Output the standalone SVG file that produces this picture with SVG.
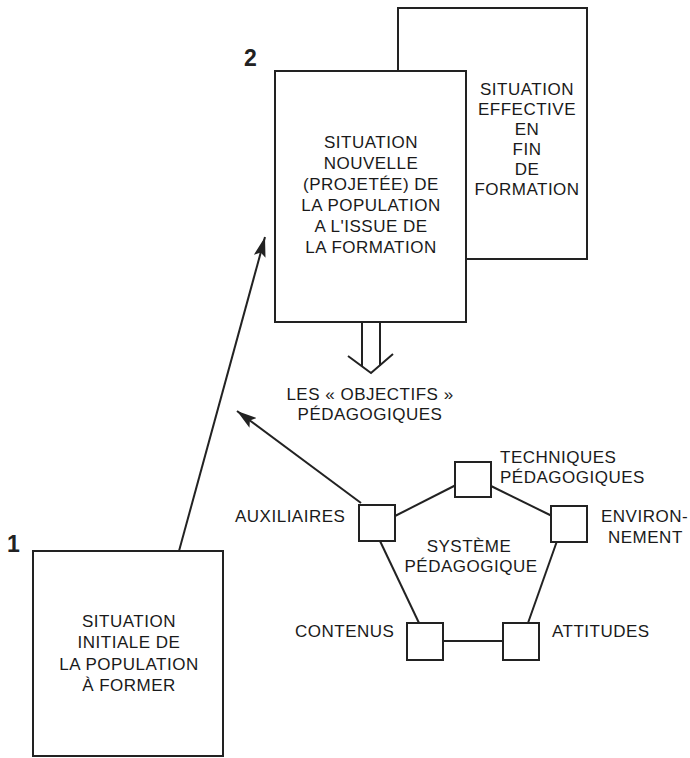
<svg xmlns="http://www.w3.org/2000/svg" width="690" height="758" viewBox="0 0 690 758">
<defs>
<style>
.box{fill:#fff;stroke:#222;stroke-width:2}
.sq{fill:#fff;stroke:#222;stroke-width:2}
.ln{fill:none;stroke:#222;stroke-width:2}
.t{font-family:"Liberation Sans",Arial,sans-serif;font-size:17px;letter-spacing:0.5px;fill:#1a1a1a}
.c{text-anchor:middle}
.num{font-family:"Liberation Sans",Arial,sans-serif;font-size:23px;font-weight:bold;fill:#222}
</style>
<marker id="ah" markerUnits="userSpaceOnUse" markerWidth="22" markerHeight="12" refX="20" refY="6" orient="auto">
<path d="M0,0 L20,6 L0,12 L4,6 Z" fill="#222"/>
</marker>
</defs>
<rect width="690" height="758" fill="#fff"/>

<g id="node-effective">
<rect class="box" x="398" y="8" width="189" height="251"/>
<text class="t c" x="527" y="95">SITUATION</text>
<text class="t c" x="527" y="115">EFFECTIVE</text>
<text class="t c" x="527" y="135">EN</text>
<text class="t c" x="527" y="155">FIN</text>
<text class="t c" x="527" y="175">DE</text>
<text class="t c" x="527" y="195">FORMATION</text>
</g>

<g id="node-2">
<text class="num" x="244" y="66">2</text>
<rect class="box" x="275" y="71" width="191" height="251"/>
<text class="t c" x="371" y="148">SITUATION</text>
<text class="t c" x="371" y="169">NOUVELLE</text>
<text class="t c" x="371" y="190">(PROJETÉE) DE</text>
<text class="t c" x="371" y="211">LA POPULATION</text>
<text class="t c" x="371" y="232">A L'ISSUE DE</text>
<text class="t c" x="371" y="253">LA FORMATION</text>
</g>

<g id="node-1">
<text class="num" x="7" y="552">1</text>
<rect class="box" x="33" y="551" width="190" height="205"/>
<text class="t c" x="129" y="627">SITUATION</text>
<text class="t c" x="129" y="648">INITIALE DE</text>
<text class="t c" x="129" y="670">LA POPULATION</text>
<text class="t c" x="129" y="691">À FORMER</text>
</g>

<g id="node-objectifs">
<text class="t c" x="370" y="400">LES « OBJECTIFS »</text>
<text class="t c" x="370" y="420">PÉDAGOGIQUES</text>
</g>

<g id="connectors">
<line class="ln" x1="179" y1="551" x2="265" y2="237" marker-end="url(#ah)"/>
<line class="ln" x1="361" y1="503" x2="237" y2="411" marker-end="url(#ah)"/>
<path class="ln" d="M362,322 V366 M380,322 V366 M348,356 L371,373 L393,354"/>
<line class="ln" x1="395" y1="516" x2="456" y2="485"/>
<line class="ln" x1="491" y1="486" x2="552" y2="516"/>
<line class="ln" x1="380" y1="541" x2="419" y2="623"/>
<line class="ln" x1="557" y1="541" x2="528" y2="623"/>
<line class="ln" x1="443" y1="641" x2="504" y2="641"/>
</g>

<g id="node-techniques">
<rect class="sq" x="455" y="462" width="36" height="35"/>
<text class="t" x="500" y="463">TECHNIQUES</text>
<text class="t" x="500" y="483">PÉDAGOGIQUES</text>
</g>
<g id="node-auxiliaires">
<rect class="sq" x="359" y="505" width="36" height="36"/>
<text class="t" x="235" y="522">AUXILIAIRES</text>
</g>
<g id="node-environnement">
<rect class="sq" x="551" y="506" width="36" height="36"/>
<text class="t" x="601" y="522">ENVIRON-</text>
<text class="t" x="608" y="543">NEMENT</text>
</g>
<g id="node-contenus">
<rect class="sq" x="407" y="623" width="36" height="37"/>
<text class="t" x="295" y="637">CONTENUS</text>
</g>
<g id="node-attitudes">
<rect class="sq" x="503" y="623" width="36" height="37"/>
<text class="t" x="552" y="637">ATTITUDES</text>
</g>
<g id="node-systeme">
<text class="t c" x="469" y="552">SYSTÈME</text>
<text class="t c" x="471" y="572">PÉDAGOGIQUE</text>
</g>
</svg>
